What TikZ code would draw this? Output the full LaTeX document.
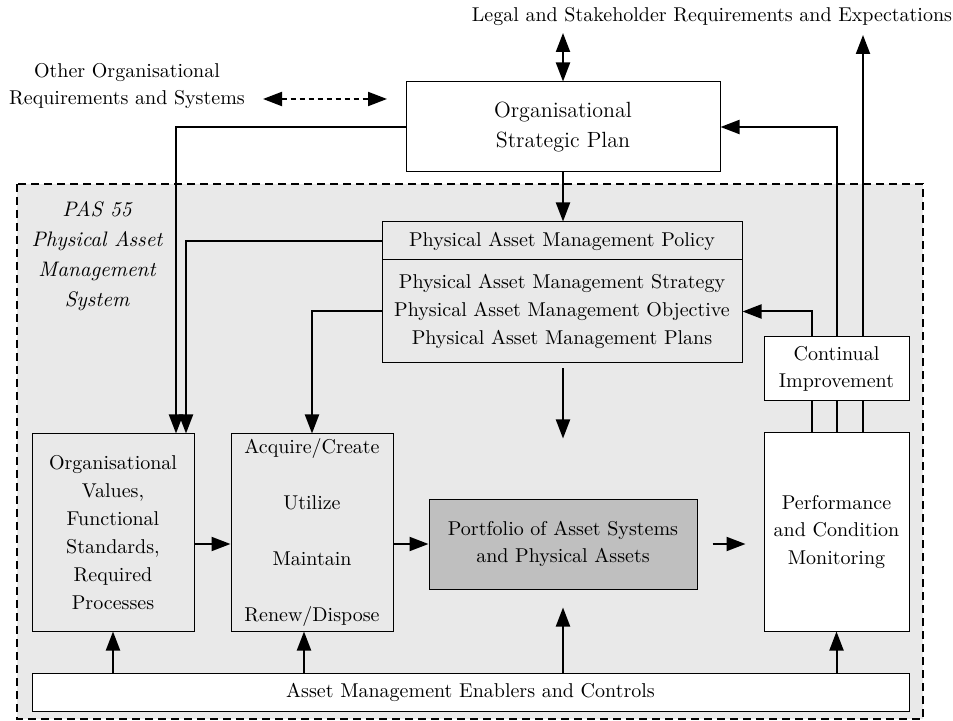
\documentclass[tikz,border=0pt]{standalone}
\usetikzlibrary{arrows.meta}
\definecolor{bgfill}{gray}{0.915}
\definecolor{portfill}{gray}{0.75}
\begin{document}
\begin{tikzpicture}[x=0.5pt,y=-0.5pt,
  box/.style={draw, line width=0.5pt, inner sep=0pt, align=center,
    font=\fontsize{10}{14}\selectfont},
  whitebox/.style={box, fill=white},
  greybox/.style={box, fill=bgfill},
  arr/.style={line width=1pt, -{Triangle[length=9.5pt,width=7pt]}},
  dbl/.style={line width=1pt, {Triangle[length=9.5pt,width=7pt]}-{Triangle[length=9.5pt,width=7pt]}},
  plain/.style={line width=1pt},
  label/.style={align=center, inner sep=0pt},
]
\useasboundingbox (0,0) rectangle (953,721);

% PAS 55 system frame
\draw[fill=bgfill, line width=1pt, dash pattern=on 4pt off 2.5pt] (17,184) rectangle (923,719);

% outside texts
\node[label, font=\fontsize{10}{12}\selectfont] (legal) at (712,17)
  {Legal and Stakeholder Requirements and Expectations};
\node[label, font=\fontsize{10}{13.5}\selectfont] (other) at (127,86)
  {Other Organisational\\Requirements and Systems};
\node[label, font=\itshape\fontsize{10.5}{15}\selectfont] (pas) at (97,256)
  {PAS 55\\Physical Asset\\Management\\System};

% boxes
\node[whitebox, minimum width=157pt, minimum height=45pt,
  font=\fontsize{11}{15}\selectfont] (osp) at (563,127)
  {Organisational\\Strategic Plan};
\node[greybox, minimum width=180pt, minimum height=19pt] (pampol) at (562,241)
  {Physical Asset Management Policy};
\node[greybox, minimum width=180pt, minimum height=51.5pt] (pamstr) at (562,311.5)
  {Physical Asset Management Strategy\\Physical Asset Management Objective\\Physical Asset Management Plans};
\node[greybox, minimum width=81pt, minimum height=98.5pt] (orgval) at (113,532.5)
  {Organisational\\Values,\\Functional\\Standards,\\Required\\Processes};
\node[greybox, minimum width=81pt, minimum height=98.5pt,
  font=\fontsize{10}{28}\selectfont] (acq) at (312,532.5)
  {Acquire/Create\\Utilize\\Maintain\\Renew/Dispose};
\node[box, fill=portfill, minimum width=134pt, minimum height=45pt,
  font=\fontsize{10}{13.5}\selectfont] (port) at (563,544)
  {Portfolio of Asset Systems\\and Physical Assets};
\node[whitebox, minimum width=72.5pt, minimum height=99pt,
  font=\fontsize{10}{13.8}\selectfont] (perf) at (836.5,532)
  {Performance\\and Condition\\Monitoring};
\node[whitebox, minimum width=72.5pt, minimum height=32pt,
  font=\fontsize{10}{13.5}\selectfont] (ci) at (836.5,369)
  {Continual\\Improvement};
\node[whitebox, minimum width=438.5pt, minimum height=19pt] (enab) at (470.5,692)
  {Asset Management Enablers and Controls};

% helper points
\coordinate (lt) at (564,33);
\coordinate (oa) at (263,99);
\coordinate (ob) at (387,99);
\coordinate (ov1) at ([xshift=31.5pt]orgval.north);
\coordinate (ov2) at ([xshift=36.5pt]orgval.north);
\coordinate (a2) at ([xshift=-4pt]acq.south);
\coordinate (ps) at ([yshift=-2.5pt]pamstr.south);
\coordinate (pe) at ([xshift=-9pt]perf.west);
\coordinate (c1) at ([xshift=-12.25pt]ci.north);
\coordinate (c3) at ([xshift=13.25pt]ci.north);
\coordinate (ltop) at (863,35);

% connectors outside the system
\draw[dbl] (osp.north |- lt) -- (osp.north);
\draw[dbl, dash pattern=on 2.5pt off 2pt] (oa) -- (ob);
\draw[arr] (osp.west) -| (ov1);
\draw[arr] (osp.south) -- (osp.south |- pampol.north);

% policy and strategy
\draw[arr] (pampol.west) -| (ov2);
\draw[arr] (pamstr.west) -| (acq.north);
\draw[arr] (ps -| port.north) -- ([yshift=30pt]port.north);

% main flow
\draw[arr] (orgval.east |- port.west) -- (acq.west |- port.west);
\draw[arr] (acq.east |- port.west) -- (port.west);
\draw[arr] ([xshift=7.5pt]port.east) -- (pe |- port.east);

% enablers
\draw[arr] (enab.north -| orgval.south) -- (orgval.south);
\draw[arr] (enab.north -| a2) -- (a2);
\draw[arr] (enab.north -| port.south) -- ([yshift=-9pt]port.south);
\draw[arr] (enab.north -| perf.south) -- (perf.south);

% monitoring and improvement feedback
\draw[plain] (perf.north -| c1) -- (ci.south -| c1);
\draw[plain] (perf.north) -- (ci.south);
\draw[plain] (perf.north -| c3) -- (ci.south -| c3);
\draw[arr] (c1) |- (pamstr.east);
\draw[arr] (ci.north) |- (osp.east);
\draw[arr] (c3) -- (ltop);
\end{tikzpicture}
\end{document}
